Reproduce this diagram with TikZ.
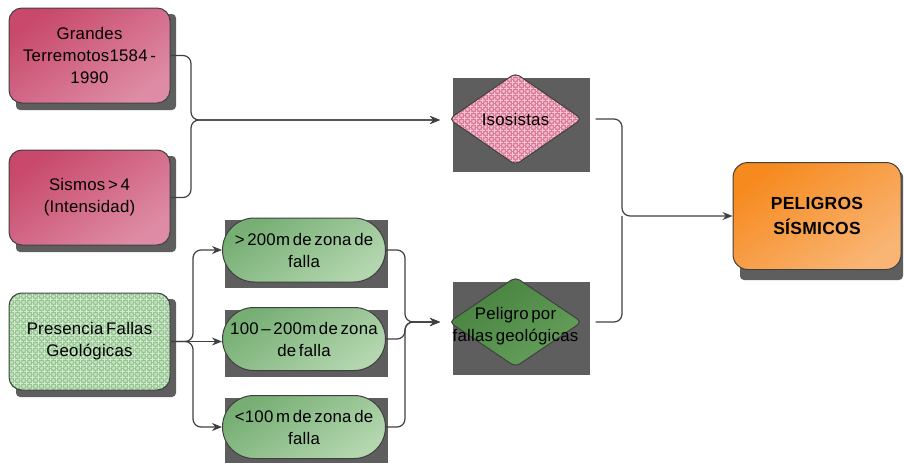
\documentclass[tikz,border=0pt]{standalone}
\usepackage{fontspec}
\setmainfont{Liberation Sans}[WordSpace=0.55, LetterSpace=1.5]
\usetikzlibrary{shapes.geometric,shapes.misc,patterns,arrows.meta}
\definecolor{pinkA}{HTML}{C8496B}
\definecolor{pinkB}{HTML}{DE8CA5}
\definecolor{pillA}{HTML}{76AE73}
\definecolor{pillB}{HTML}{B3D6AF}
\definecolor{gbase}{HTML}{93C68F}
\definecolor{ibase}{HTML}{DE7595}
\definecolor{dgA}{HTML}{47823F}
\definecolor{dgB}{HTML}{66A05C}
\definecolor{orA}{HTML}{F68A1F}
\definecolor{orB}{HTML}{F9B574}
\definecolor{edge}{HTML}{404040}
\definecolor{shadowgray}{HTML}{5E5E5E}
\pgfdeclarepatternformonly{lattice}{\pgfpointorigin}{\pgfpoint{6pt}{6pt}}{\pgfpoint{6pt}{6pt}}{%
  \pgfpathrectangle{\pgfpoint{0pt}{2.5pt}}{\pgfpoint{6pt}{1pt}}%
  \pgfpathrectangle{\pgfpoint{2.5pt}{0pt}}{\pgfpoint{1pt}{6pt}}%
  \pgfusepath{fill}%
  \pgfpathcircle{\pgfpoint{0pt}{0pt}}{1.2pt}%
  \pgfpathcircle{\pgfpoint{6pt}{0pt}}{1.2pt}%
  \pgfpathcircle{\pgfpoint{0pt}{6pt}}{1.2pt}%
  \pgfpathcircle{\pgfpoint{6pt}{6pt}}{1.2pt}%
  \pgfusepath{fill}}
\begin{document}
\begin{tikzpicture}[x=1pt,y=-1pt,
  line/.style={draw=edge, line width=1.2pt, rounded corners=8pt},
  arr/.style={line, -{Stealth[length=10pt,width=8pt]}},
  txt/.style={font=\fontsize{16.8}{22}\selectfont, align=center, text=black},
  basebox/.style={draw=edge, line width=1pt, minimum width=161pt, minimum height=95pt, rounded corners=13pt, inner sep=0pt, txt},
  pinkbox/.style={basebox, top color=pinkA, bottom color=pinkB, shading angle=35},
  greenbox/.style={basebox, preaction={fill=gbase}, preaction={pattern=lattice, pattern color=white!60!gbase}},
  pill/.style={rounded rectangle, draw=edge, line width=1pt, minimum width=163pt, minimum height=64pt, inner sep=0pt, txt, top color=pillA, bottom color=pillB, shading angle=35},
  dia/.style={diamond, draw=edge, line width=1pt, minimum width=133pt, minimum height=92pt, inner sep=0pt, rounded corners=5pt},
  isodia/.style={dia, preaction={fill=ibase}, preaction={pattern=lattice, pattern color=white!60!ibase}},
  peldia/.style={dia, top color=dgA, bottom color=dgB, shading angle=35},
  orbox/.style={draw=edge, line width=1pt, minimum width=168pt, minimum height=107pt, rounded corners=15pt, inner sep=0pt, align=center, font=\fontsize{17.5}{25}\selectfont\bfseries, top color=orA, bottom color=orB, shading angle=35}
]
\useasboundingbox (0,0) rectangle (904,463);
% shadows
\fill[shadowgray, rounded corners=4pt] (16,14) rectangle (176,110);
\fill[shadowgray, rounded corners=4pt] (16,156) rectangle (176,252);
\fill[shadowgray, rounded corners=4pt] (16,299) rectangle (176,397);
\fill[shadowgray] (225,220) rectangle (388,288);
\fill[shadowgray] (225,310) rectangle (388,377);
\fill[shadowgray] (225,398) rectangle (388,463);
\fill[shadowgray] (453,78) rectangle (590,172);
\fill[shadowgray] (453,282) rectangle (590,375);
\fill[shadowgray, rounded corners=4pt] (740,172) rectangle (903,280);
% nodes
\node[pinkbox] (b1) at (89.5,55.5) {Grandes\\Terremotos1584 -\\1990};
\node[pinkbox] (b2) at (89.5,197.5) {Sismos > 4\\(Intensidad)};
\node[greenbox, minimum height=97pt] (b3) at (89.5,341.5) {Presencia Fallas\\Geológicas};
\node[pill] (p1) at (304,250) {> 200m de zona de\\falla};
\node[pill, minimum height=63pt] (p2) at (304,339) {100 – 200m de zona\\de falla};
\node[pill, minimum height=63pt] (p3) at (304,427) {<100 m de zona de\\falla};
\node[isodia, label={[txt]center:Isosistas}] (d1) at (515.5,119) {};
\node[peldia, minimum height=90pt, label={[txt, yshift=-4pt]center:{Peligro por\\fallas geológicas}}] (d2) at (515.5,322) {};
\node[orbox] (o) at (817,216) {PELIGROS\\SÍSMICOS};
% junctions
\coordinate (jA) at (191,120);
\coordinate (tA) at (440,120);
\coordinate (jB) at (622,216);
\coordinate (jC) at (193,341.5);
\coordinate (jD) at (405,322);
\coordinate (tD) at (440,322);
% connectors
\draw[arr] (b1.east) -| (jA) -- (tA);
\draw[arr] (b2.east) -| (jA) -- (tA);
\draw[arr] ([xshift=13pt]d1.east) -| (jB) -- (o.west);
\draw[line] ([xshift=13pt]d2.east) -| (jB);
\draw[arr] (b3.east) -| (jC |- p1.west) -- (p1.west);
\draw[arr] (b3.east) -- (b3.east -| p2.west);
\draw[arr] (b3.east) -| (jC |- p3.west) -- (p3.west);
\draw[arr] (p1.east) -| (jD) -- (tD);
\draw[arr] (p2.east) -| (jD) -- (tD);
\draw[arr] (p3.east) -| (jD) -- (tD);
\end{tikzpicture}
\end{document}
